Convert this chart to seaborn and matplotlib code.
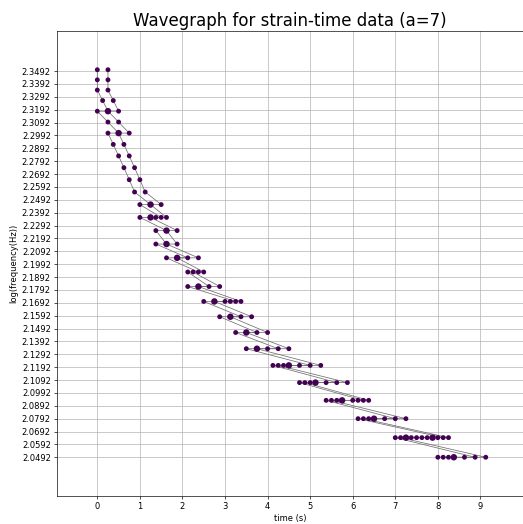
import numpy as np
import pandas as pd
import matplotlib
matplotlib.use("Agg")
import matplotlib.pyplot as plt
import seaborn as sns

# frequency rows (Hz), top to bottom
frequencies = [224, 220, 216, 212, 208, 204, 200, 196, 192, 188, 184, 180, 176, 172, 168,
               164, 160, 156, 152, 148, 144, 140, 136, 132, 128, 124, 120, 116, 112]

# detected times (s) per frequency row
row_times = [
    [0, 0.25],
    [0, 0.25],
    [0, 0.25],
    [0.125, 0.375],
    [0, 0.25, 0.5],
    [0.25, 0.5],
    [0.25, 0.5, 0.75],
    [0.375, 0.625],
    [0.5, 0.75],
    [0.625, 0.875],
    [0.75, 1.0],
    [0.875, 1.125],
    [1.0, 1.25, 1.5],
    [1.0, 1.25, 1.375, 1.5, 1.625],
    [1.375, 1.625, 1.875],
    [1.375, 1.625, 1.875],
    [1.625, 1.875, 2.125, 2.375],
    [2.125, 2.25, 2.375, 2.5],
    [2.125, 2.375, 2.625, 2.875],
    [2.5, 2.75, 3.0, 3.125, 3.25, 3.375],
    [2.875, 3.125, 3.375, 3.625],
    [3.25, 3.5, 3.75, 4.0],
    [3.5, 3.75, 4.0, 4.25, 4.5],
    [4.125, 4.25, 4.375, 4.5, 4.75, 5.0, 5.25],
    [4.75, 4.875, 5.0, 5.125, 5.375, 5.625, 5.875],
    [5.375, 5.5, 5.625, 5.75, 6.0, 6.125, 6.25, 6.375],
    [6.125, 6.25, 6.375, 6.5, 6.75, 7.0, 7.25],
    [7.0, 7.125, 7.25, 7.375, 7.5, 7.625, 7.75, 7.875, 8.0, 8.125, 8.25],
    [8.0, 8.125, 8.25, 8.375, 8.625, 8.875, 9.125],
]

# strongest time per row (drawn larger)
peak_times = [None, None, None, None, 0.25, None, 0.5, None, None, None, None, None, 1.25, 1.25,
              1.625, 1.625, 1.875, None, 2.375, 2.75, 3.125, 3.5, 3.75, 4.5, 5.125, 5.75, 6.5,
              7.25, 8.375]
extra_peaks = {27: [7.875]}

records = []
for i, (f, times, pk) in enumerate(zip(frequencies, row_times, peak_times)):
    peaks = ([pk] if pk is not None else []) + extra_peaks.get(i, [])
    for t in times:
        records.append({"time": t, "logf": np.log10(f), "peak": t in peaks})
df = pd.DataFrame(records)

# two linked chains: earlier-time and later-time members of each row,
# each traversed from late to early inside a row, then on to the next row
chain_recs = []
order = 0
for f, times in zip(frequencies, row_times):
    ts = sorted(times, reverse=True)
    for chain, sub in (("early", ts[1:]), ("late", ts[:-1])):
        for t in sub:
            chain_recs.append({"chain": chain, "order": order, "time": t, "logf": np.log10(f)})
            order += 1
chains = pd.DataFrame(chain_recs).sort_values(["chain", "order"])

plt.rcParams.update({"font.family": "DejaVu Sans"})
fig = plt.figure(figsize=(523 / 60, 524 / 60), dpi=60)
ax = fig.add_axes([56.7 / 523, 28 / 524, 1 - 56.7 / 523, 465 / 524])

sns.lineplot(data=chains, x="time", y="logf", units="chain", estimator=None, sort=False,
             color="#6e6e6e", lw=0.9, ax=ax, zorder=2)

sns.scatterplot(data=df[~df["peak"]], x="time", y="logf", color="#440154", s=34,
                edgecolor="none", ax=ax, zorder=3)
sns.scatterplot(data=df[df["peak"]], x="time", y="logf", color="#440154", s=60,
                edgecolor="none", ax=ax, zorder=3)

ymin = np.log10(min(frequencies))
ymax = np.log10(max(frequencies))
yt = np.arange(ymin, ymax, 0.01)
ax.set_yticks(yt)
ax.set_yticklabels([f"{v:.4f}" for v in yt])
ax.set_xticks(range(0, 10))
ax.set_xlim(-0.954, 10.0)
rng = ymax - ymin
ax.set_ylim(ymin - 0.1 * rng, ymax + 0.1 * rng)
ax.grid(True, color="#b0b0b0", lw=0.8)
ax.set_axisbelow(True)
ax.set_xlabel("time (s)")
ax.set_ylabel("log(frequency(Hz))")
ax.set_title("Wavegraph for strain-time data (a=7)", fontsize=20)

fig.savefig("out.png", dpi=60)
